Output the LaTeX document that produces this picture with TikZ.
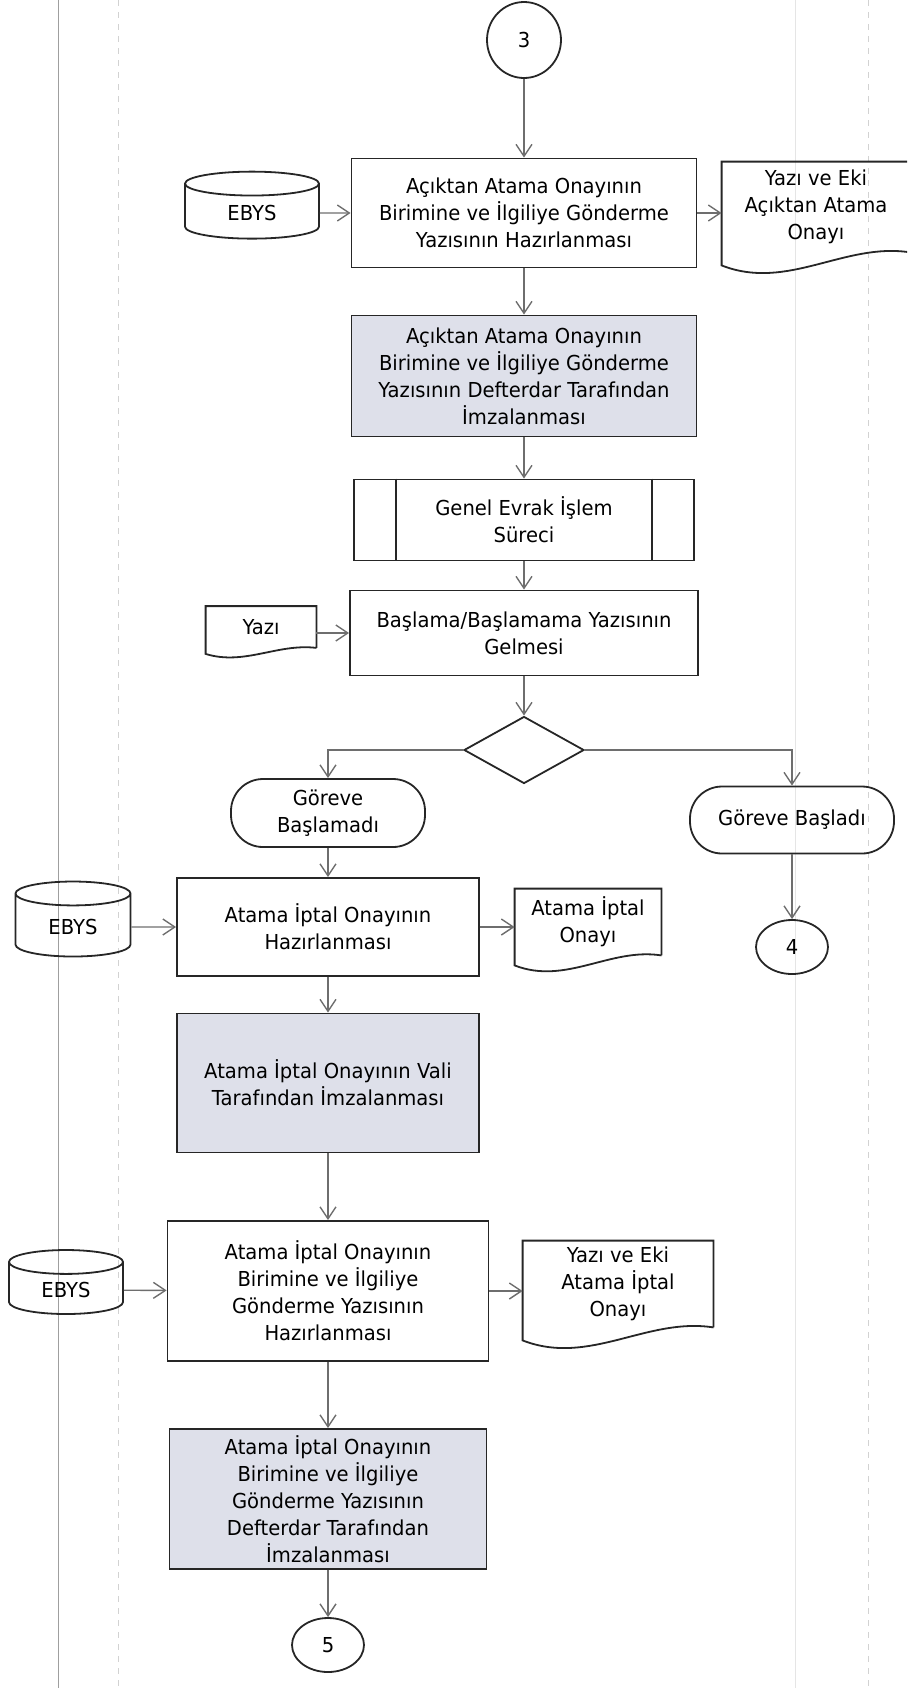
\documentclass[tikz,border=0pt]{standalone}
\usepackage{fontspec}
\setmainfont{DejaVu Sans}[FakeStretch=0.95]
\usetikzlibrary{shapes.geometric,arrows.meta,calc}
\definecolor{boxgrey}{RGB}{222,224,234}
\definecolor{linegrey}{RGB}{110,110,110}

\begin{document}
\begin{tikzpicture}[x=0.5pt,y=-0.5pt]
        \clip (0,0) rectangle (907,1688);
        \tikzstyle{every node}=[font=\fontsize{10.3}{13.5}\selectfont, align=center, inner sep=1pt]
        \tikzstyle{proc}=[draw=black!85, line width=0.9pt, rectangle]
        \tikzstyle{signed}=[proc, fill=boxgrey]
        \tikzstyle{db}=[draw=black!85, line width=0.9pt, cylinder, shape border rotate=90, aspect=0.45]
        \tikzstyle{doc}=[rectangle]
        \tikzstyle{term}=[draw=black!85, line width=0.9pt, rounded corners=16pt]
        \tikzstyle{conn}=[draw=black!85, line width=0.9pt, ellipse, inner sep=0pt]
        \tikzstyle{flow}=[draw=linegrey, line width=0.7pt, -{Straight Barb[length=6pt,width=8pt]}]
        \tikzstyle{lane}=[line width=0.5pt]
        % lanes
        \draw[lane, gray!75] (58,0) -- (58,1688);
        \draw[lane, gray!35, dashed] (118,0) -- (118,1688);
        \draw[lane, gray!20] (795,0) -- (795,1688);
        \draw[lane, gray!35, dashed] (868,0) -- (868,1688);
        % nodes
        \node[conn, minimum width=37pt, minimum height=38pt] (c3) at (524,40) {3};
        \node[proc, minimum width=172.5pt, minimum height=54.5pt] (b1) at (524,213) {Açıktan Atama Onayının\\Birimine ve İlgiliye Gönderme\\Yazısının Hazırlanması};
        \node[db, minimum width=67pt, minimum height=33.5pt] (e1) at (252,213) {EBYS};
        \node[doc, minimum width=94pt, minimum height=45pt] (d1) at (816,207) {Yazı ve Eki\\Açıktan Atama\\Onayı};
        \node[signed, minimum width=172.5pt, minimum height=60.5pt] (b2) at (524,376) {Açıktan Atama Onayının\\Birimine ve İlgiliye Gönderme\\Yazısının Defterdar Tarafından\\İmzalanması};
        \node[proc, minimum width=170pt, minimum height=40.5pt] (g) at (524,520) {Genel Evrak İşlem\\Süreci};
        \node[doc, minimum width=55pt, minimum height=20.5pt] (yz) at (261,627) {Yazı};
        \node[proc, minimum width=174pt, minimum height=42.5pt] (b3) at (524,633) {Başlama/Başlamama Yazısının\\Gelmesi};
        \node[draw=black!85, line width=0.9pt, diamond, aspect=1.8, minimum width=60pt, minimum height=33.5pt] (dia) at (524,750) {};
        \node[term, minimum width=97pt, minimum height=34pt] (t1) at (328,813) {Göreve\\Başlamadı};
        \node[term, minimum width=102pt, minimum height=33.5pt] (t2) at (792,820) {Göreve Başladı};
        \node[conn, minimum width=36pt, minimum height=27pt] (c4) at (792,947) {4};
        \node[proc, minimum width=151pt, minimum height=49pt] (b4) at (328,927) {Atama İptal Onayının\\Hazırlanması};
        \node[db, minimum width=57.5pt, minimum height=37.5pt] (e2) at (73,927) {EBYS};
        \node[doc, minimum width=73pt, minimum height=33pt] (d2) at (588,922) {Atama İptal\\Onayı};
        \node[signed, minimum width=151pt, minimum height=69.5pt] (b5) at (328,1083) {Atama İptal Onayının Vali\\Tarafından İmzalanması};
        \node[proc, minimum width=160.5pt, minimum height=70pt] (b6) at (328,1291) {Atama İptal Onayının\\Birimine ve İlgiliye\\Gönderme Yazısının\\Hazırlanması};
        \node[db, minimum width=57pt, minimum height=32pt] (e3) at (66,1290) {EBYS};
        \node[doc, minimum width=95pt, minimum height=43pt] (d3) at (618,1284) {Yazı ve Eki\\Atama İptal\\Onayı};
        \node[signed, minimum width=158.5pt, minimum height=70pt] (b7) at (328,1499) {Atama İptal Onayının\\Birimine ve İlgiliye\\Gönderme Yazısının\\Defterdar Tarafından\\İmzalanması};
        \node[conn, minimum width=36pt, minimum height=27pt] (c5) at (328,1645) {5};
        % document outlines and sub-process bars
        \foreach \d/\k in {d1/13,yz/6,d2/10,d3/13}
            \draw[black!85, line width=0.9pt] (\d.south east) -- (\d.north east) -- (\d.north west) -- ($(\d.south west)+(0,\k)$) .. controls ($(\d.south west)!.35!(\d.south east)+(0,3*\k)$) and ($(\d.south west)!.65!(\d.south east)+(0,-0.8*\k)$) .. (\d.south east);
        \draw[black!85, line width=0.9pt] ([xshift=21.5pt]g.north west) -- ([xshift=21.5pt]g.south west) ([xshift=-21.5pt]g.north east) -- ([xshift=-21.5pt]g.south east);
        % connectors
        \draw[flow] (c3) -- (b1);
        \draw[flow] (e1) -- (b1);
        \draw[flow] (b1) -- (b1 -| d1.west);
        \draw[flow] (b1) -- (b2);
        \draw[flow] (b2) -- (g);
        \draw[flow] (g) -- (b3);
        \draw[flow] (b3 -| yz.east) -- (b3);
        \draw[flow] (b3) -- (dia);
        \draw[flow] (dia.west) -| (t1);
        \draw[flow] (dia.east) -| (t2);
        \draw[flow] (t2) -- (c4);
        \draw[flow] (t1) -- (b4);
        \draw[flow] (e2) -- (b4);
        \draw[flow] (b4) -- (b4 -| d2.west);
        \draw[flow] (b4) -- (b5);
        \draw[flow] (b5) -- (b6);
        \draw[flow] (e3) -- (b6);
        \draw[flow] (b6) -- (b6 -| d3.west);
        \draw[flow] (b6) -- (b7);
        \draw[flow] (b7) -- (c5);
    \end{tikzpicture}
\end{document}
